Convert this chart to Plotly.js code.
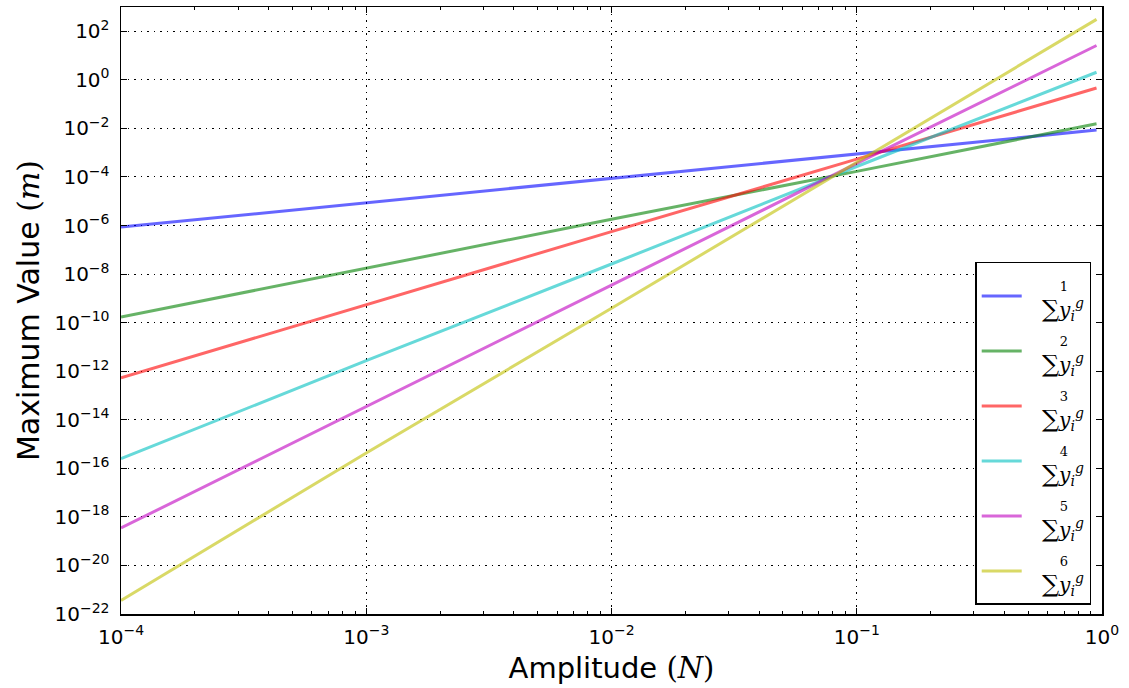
<!DOCTYPE html>
<html>
<head>
<meta charset="utf-8">
<script src="https://cdn.plot.ly/plotly-3.0.1.min.js"></script>
<style>
  html, body { margin: 0; padding: 0; background: #fff; }
  #chart { width: 1129px; height: 688px; }
</style>
</head>
<body>
<div id="chart"></div>
<script>
// Amplitude (N) sample points
const amplitude = [1e-4, 1e-3, 1e-2, 1e-1, 0.95];

// Maximum value (m) for each order of the sum
const sum1 = [8.6e-7, 8.6e-6, 8.8e-5, 9.0e-4, 8.5e-3];
const sum2 = [1.7e-10, 1.8e-8, 1.8e-6, 1.7e-4, 1.55e-2];
const sum3 = [5.3e-13, 5.5e-10, 5.6e-7, 5.4e-4, 0.46];
const sum4 = [2.5e-16, 2.7e-12, 2.6e-8, 2.7e-4, 2.05];
const sum5 = [3.5e-19, 3.4e-14, 3.5e-9, 3.6e-4, 26];
const sum6 = [3.6e-22, 4.3e-16, 3.9e-10, 4.0e-4, 310];

const seriesOrders = ['1', '2', '3', '4', '5', '6'];
const seriesValues = [sum1, sum2, sum3, sum4, sum5, sum6];
const seriesColors = ['#0000ff', '#008000', '#ff0000', '#00bfbf', '#bf00bf', '#bfbf00'];

// Tick labels
const xTickVals = [1e-4, 1e-3, 1e-2, 1e-1, 1];
const xTickText = ['10<sup>−4</sup>', '10<sup>−3</sup>', '10<sup>−2</sup>', '10<sup>−1</sup>', '10<sup>0</sup>'];
const yTickVals = [1e-22, 1e-20, 1e-18, 1e-16, 1e-14, 1e-12, 1e-10, 1e-8, 1e-6, 1e-4, 1e-2, 1, 1e2];
const yTickText = ['10<sup>−22</sup>', '10<sup>−20</sup>', '10<sup>−18</sup>', '10<sup>−16</sup>', '10<sup>−14</sup>',
  '10<sup>−12</sup>', '10<sup>−10</sup>', '10<sup>−8</sup>', '10<sup>−6</sup>', '10<sup>−4</sup>',
  '10<sup>−2</sup>', '10<sup>0</sup>', '10<sup>2</sup>'];

const xMinor = [];
for (let e = -4; e < 0; e++) {
  for (let d = 2; d <= 9; d++) xMinor.push(d * Math.pow(10, e));
}

function legendLabel(k) {
  return "<span style='font-family:\"DejaVu Serif\";font-size:13px'>&nbsp;&nbsp;&nbsp;&nbsp;&nbsp;&nbsp;&nbsp;&nbsp;" + k + "</span><br>" +
         "<span style='font-family:\"DejaVu Serif\";font-size:24px'>&nbsp;&nbsp;∑</span>" +
         "<span style='font-family:\"DejaVu Serif\"'><i>y</i><sub><i>i</i></sub><sup><i>g</i></sup></span>";
}

const traces = seriesValues.map((vals, i) => ({
  type: 'scatter',
  mode: 'lines',
  x: amplitude,
  y: vals,
  name: legendLabel(seriesOrders[i]),
  line: { color: seriesColors[i], width: 3 },
  opacity: 0.6
}));

const axisCommon = {
  type: 'log',
  showline: true,
  linecolor: '#000',
  linewidth: 1.5,
  mirror: 'allticks',
  ticks: 'inside',
  ticklen: 6,
  tickwidth: 1,
  tickcolor: '#000',
  showgrid: true,
  gridcolor: '#000',
  gridwidth: 1,
  griddash: '1.5px,5px',
  zeroline: false,
  tickmode: 'array',
  tickfont: { family: 'DejaVu Sans', size: 20, color: '#000' }
};

const layout = {
  width: 1129,
  height: 688,
  margin: { l: 121, r: 27, t: 7, b: 74 },
  paper_bgcolor: '#fff',
  plot_bgcolor: '#fff',
  showlegend: true,
  xaxis: Object.assign({}, axisCommon, {
    range: [-4, 0],
    tickvals: xTickVals,
    ticktext: xTickText,
    ticklabelstandoff: 4,
    minor: { tickvals: xMinor, ticks: 'inside', ticklen: 3, tickcolor: '#000', showgrid: false },
    title: {
      text: "Amplitude <span style='font-family:\"DejaVu Serif\"'>(<i>N</i>)</span>",
      font: { family: 'DejaVu Sans', size: 29, color: '#000' },
      standoff: 10
    }
  }),
  yaxis: Object.assign({}, axisCommon, {
    range: [-22, 3],
    tickvals: yTickVals,
    ticktext: yTickText,
    ticklabelstandoff: 6,
    title: {
      text: "Maximum Value <span style='font-family:\"DejaVu Serif\"'>(<i>m</i>)</span>",
      font: { family: 'DejaVu Sans', size: 30, color: '#000' },
      standoff: 6
    }
  }),
  legend: {
    x: 0.989,
    xanchor: 'right',
    y: 0.015,
    yanchor: 'bottom',
    bgcolor: '#fff',
    bordercolor: '#000',
    borderwidth: 1.5,
    font: { family: 'DejaVu Serif', size: 20, color: '#000' },
    itemwidth: 40
  }
};

Plotly.newPlot('chart', traces, layout, { displayModeBar: false, staticPlot: true });
</script>
</body>
</html>
